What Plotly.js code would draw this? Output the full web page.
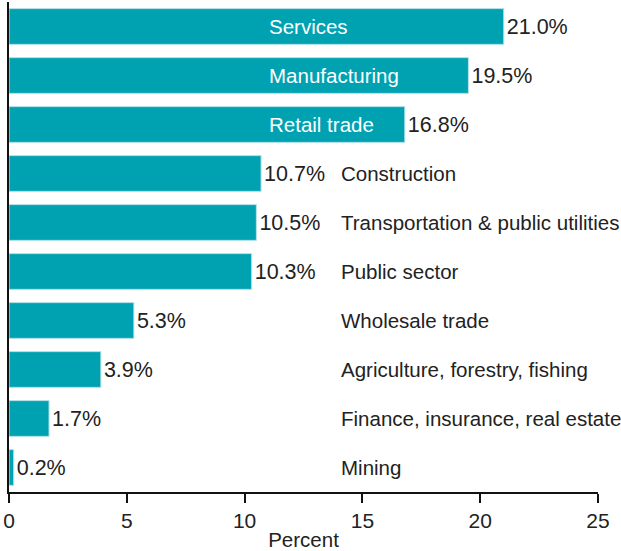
<!DOCTYPE html>
<html>
<head>
<meta charset="utf-8">
<script src="https://cdn.plot.ly/plotly-3.0.1.min.js"></script>
<style>html,body{margin:0;padding:0;background:#fff;}#chart{width:621px;height:551px;}</style>
</head>
<body>
<div id="chart"></div>
<script>
const categories = ["Services","Manufacturing","Retail trade","Construction","Transportation & public utilities","Public sector","Wholesale trade","Agriculture, forestry, fishing","Finance, insurance, real estate","Mining"];
const values = [21.0, 19.5, 16.8, 10.7, 10.5, 10.3, 5.3, 3.9, 1.7, 0.2];
const valueLabels = ["21.0%","19.5%","16.8%","10.7%","10.5%","10.3%","5.3%","3.9%","1.7%","0.2%"];
const insideLabel = [true, true, true, false, false, false, false, false, false, false];
const tickVals = [0, 5, 10, 15, 20, 25];

const font = "Liberation Sans, Arial, sans-serif";

const trace = {
  type: "bar",
  orientation: "h",
  x: values,
  y: categories,
  text: valueLabels,
  textposition: "outside",
  cliponaxis: false,
  textfont: {family: font, size: 21.5, color: "#222"},
  marker: {color: "#00a2b1", line: {color: "#b8e3e8", width: 1}},
  hoverinfo: "none"
};

const annotations = categories.map((c, i) => ({
  x: insideLabel[i] ? 10.95 : 14.0,
  y: c,
  xref: "x", yref: "y",
  text: c,
  showarrow: false,
  xanchor: "left",
  yanchor: "middle",
  font: {family: font, size: 20.5, color: insideLabel[i] ? "#ffffff" : "#222"}
}));

const layout = {
  width: 621, height: 551,
  margin: {l: 9, r: 23, t: 2, b: 59},
  paper_bgcolor: "#fff", plot_bgcolor: "#fff",
  showlegend: false,
  bargap: 0.27,
  xaxis: {
    range: [0, 25], tickvals: tickVals, ticktext: tickVals.map(String),
    showgrid: false, zeroline: false,
    showline: true, linecolor: "#111", linewidth: 2,
    ticks: "outside", ticklen: 9, tickwidth: 2, tickcolor: "#111",
    tickfont: {family: font, size: 21, color: "#222"},
    title: {text: "Percent", font: {family: font, size: 20.5, color: "#222"}, standoff: 2}
  },
  yaxis: {
    autorange: "reversed", showticklabels: false, showgrid: false, zeroline: false,
    showline: true, linecolor: "#111", linewidth: 2, ticks: ""
  },
  annotations: annotations
};

Plotly.newPlot("chart", [trace], layout, {displayModeBar: false, staticPlot: true});
</script>
</body>
</html>
